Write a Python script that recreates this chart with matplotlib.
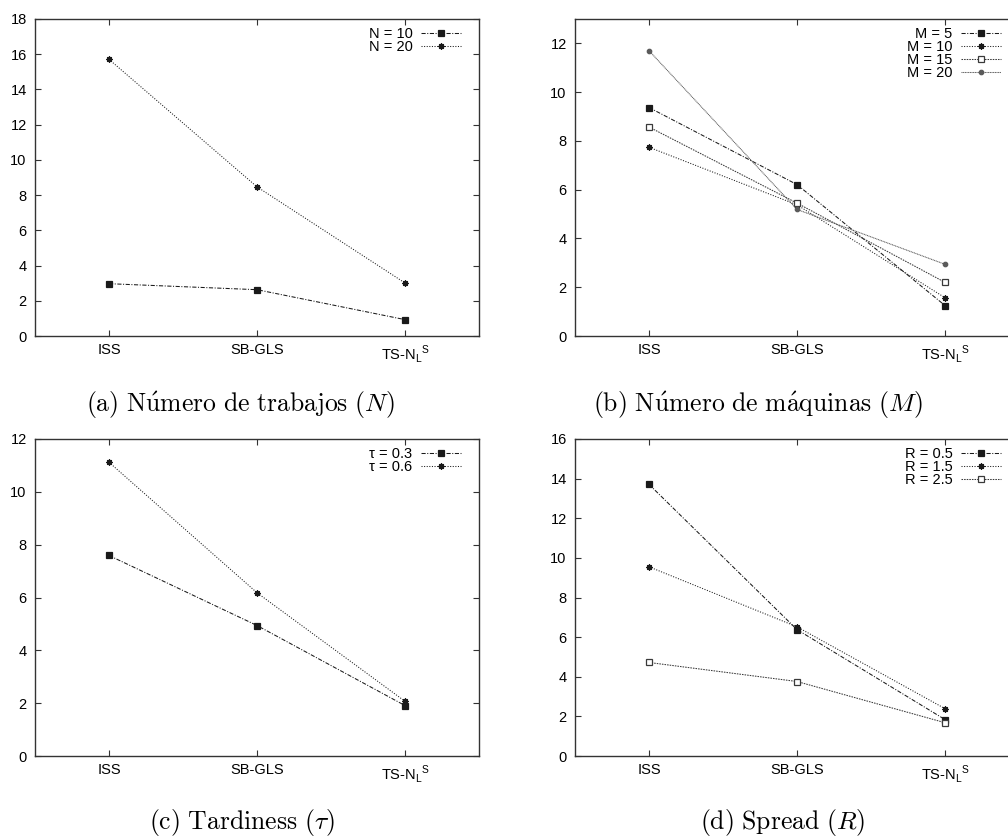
import numpy as np
import matplotlib
matplotlib.use('Agg')
import matplotlib.pyplot as plt

plt.rcParams['font.family'] = ['Liberation Sans', 'DejaVu Sans']

# categories on the x axis
methods = ['ISS', 'SB-GLS', r'TS-N$_\mathregular{L}{}^\mathregular{S}$']

# (a) number of jobs
n_labels = ['N = 10', 'N = 20']
n_vals = [[2.97, 2.63, 0.93],
          [15.71, 8.47, 3.01]]

# (b) number of machines
m_labels = ['M = 5', 'M = 10', 'M = 15', 'M = 20']
m_vals = [[9.37, 6.21, 1.25],
          [7.74, 5.38, 1.57],
          [8.57, 5.45, 2.20],
          [11.70, 5.19, 2.94]]

# (c) tardiness
t_labels = ['τ = 0.3', 'τ = 0.6']
t_vals = [[7.59, 4.94, 1.91],
          [11.12, 6.18, 2.07]]

# (d) spread
r_labels = ['R = 0.5', 'R = 1.5', 'R = 2.5']
r_vals = [[13.71, 6.38, 1.84],
          [9.55, 6.52, 2.39],
          [4.72, 3.76, 1.68]]

captions = [r'$\mathrm{(a)\ N\acute{u}mero\ de\ trabajos\ (}N\mathrm{)}$',
            r'$\mathrm{(b)\ N\acute{u}mero\ de\ m\acute{a}quinas\ (}M\mathrm{)}$',
            r'$\mathrm{(c)\ Tardiness\ (}\tau\mathrm{)}$',
            r'$\mathrm{(d)\ Spread\ (}R\mathrm{)}$']

# gnuplot-like line styles: (colour, dash pattern, marker, filled)
styles = [('#1a1a1a', (0, (4, 1.5, 1, 1.5)), 's', True),
          ('#1a1a1a', (0, (1, 1.5)), (8, 2, 0), True),
          ('#3a3a3a', (0, (1.5, 1)), 's', False),
          ('#5a5a5a', (0, (1, 0.6)), 'o', True)]

fig = plt.figure(figsize=(10.08, 8.4), dpi=100)

W, H = 1008, 840
panels = [
    (35, 19, n_labels, n_vals, 18, 18),
    (575, 19, m_labels, m_vals, 13, 12),
    (35, 439, t_labels, t_vals, 12, 12),
    (575, 439, r_labels, r_vals, 16, 16),
]
cap_pos = [(240, 405), (758, 405), (242, 823), (783, 823)]

x = np.arange(len(methods))
for i, (left, top, labels, vals, ymax, ytop) in enumerate(panels):
    ax = fig.add_axes([left / W, 1 - (top + 317) / H, 444 / W, 317 / H])
    for j, (lab, v) in enumerate(zip(labels, vals)):
        col, ls, mk, filled = styles[j]
        ms = 3.2 if mk == 'o' else 4.5
        ax.plot(x, v, color=col, linestyle=ls, linewidth=0.75, marker=mk,
                markersize=ms, markeredgewidth=0.9,
                markerfacecolor=col if filled else 'white',
                markeredgecolor=col, label=lab)
    ax.set_xlim(-0.5, 2.5)
    ax.set_ylim(0, ymax)
    ax.set_xticks(x)
    ax.set_xticklabels(methods)
    ax.set_yticks(np.arange(0, ytop + 1, 2))
    ax.tick_params(direction='in', top=True, right=True, length=4,
                   width=0.8, color='#333333', labelsize=10.5)
    ax.tick_params(axis='y', pad=6)
    ax.tick_params(axis='x', pad=5)
    for s in ax.spines.values():
        s.set_color('#333333')
        s.set_linewidth(1.0)
    ax.legend(loc='upper right', bbox_to_anchor=(0.965, 0.985), frameon=False,
              markerfirst=False, fontsize=10.5, handlelength=2.7,
              handletextpad=0.6, labelspacing=-0.05, borderpad=0.2,
              borderaxespad=0.0)
    cx, cy = cap_pos[i]
    fig.text(cx / W, 1 - cy / H, captions[i], ha='center', va='center',
             fontsize=18.5, math_fontfamily='cm')

fig.savefig('out.png', dpi=100)
